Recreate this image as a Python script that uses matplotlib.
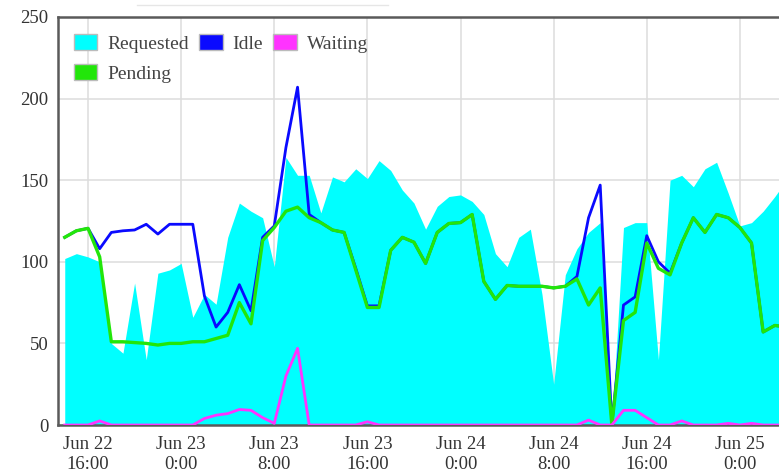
import numpy as np
import matplotlib
matplotlib.use("Agg")
import matplotlib.pyplot as plt
from matplotlib.patches import Patch
from matplotlib.lines import Line2D

# hourly samples, hours after Jun 22 16:00
hours = np.arange(-2, 61)

requested = [102, 105, 103, 100, 50, 44, 87, 40, 93, 95, 99, 66, 80, 74, 115,
             136, 131, 127, 97, 164, 153, 153, 130, 152, 149, 157, 151, 162, 156,
             144, 136, 120, 134, 140, 141, 137, 129, 105, 97, 115, 120, 80, 25,
             92, 108, 118, 124, 0, 121, 124, 124, 40, 150, 153, 146, 157, 161,
             142, 122, 124, 131, 140, 150]

idle = [115, 119, 120.5, 108, 118, 119, 119.5, 123, 117, 123, 123, 123, 79, 60,
        69, 86, 70, 115, 122, 170, 207, 129, 124, 119.5, 118, 96, 73, 73, 107,
        115, 112, 99, 118, 123.5, 124, 129, 88, 77, 85.5, 85, 85, 85, 84, 85,
        91, 127, 147, 0, 73.5, 78.5, 116, 100, 93, 111.5, 127, 118, 129, 127,
        121, 111.5, 57, 61, 60]

pending = [115, 119, 120.5, 103, 51, 51, 50.5, 50, 49, 50, 50, 51, 51, 53, 55,
           75, 62, 113, 121, 131, 133.5, 127, 124, 119.5, 118, 95, 72, 72, 107,
           115, 112, 99, 118, 123.5, 124, 129, 88, 77, 85.5, 85, 85, 85, 84, 85,
           89.5, 73.5, 84, 0, 64, 69, 111.5, 96, 92, 111.5, 127, 118, 129, 127,
           121, 111.5, 57, 61, 60]

waiting = [0, 0, 0, 2.5, 0, 0, 0, 0, 0, 0, 0, 0, 4, 6, 7, 9.5, 9, 4.5, 1, 30,
           47, 0, 0, 0, 0, 0, 2, 0, 0, 0, 0, 0, 0, 0, 0, 0, 0, 0, 0, 0, 0, 0, 0,
           0, 0, 3, 0, 0, 9, 9, 4.5, 0, 0, 2.5, 0, 0, 0, 1, 0, 1, 0, 0, 0]

tick_hours = [0, 8, 16, 24, 32, 40, 48, 56]
tick_labels = ["Jun 22\n16:00", "Jun 23\n0:00", "Jun 23\n8:00", "Jun 23\n16:00",
               "Jun 24\n0:00", "Jun 24\n8:00", "Jun 24\n16:00", "Jun 25\n0:00"]

plt.rcParams["font.family"] = ["Liberation Serif", "DejaVu Serif"]

fig = plt.figure(figsize=(7.79, 4.75), dpi=100)
ax = fig.add_axes([58 / 779, 50 / 475, 721 / 779, 408 / 475])

ax.fill_between(hours, 0, requested, color="#00ffff", linewidth=0, zorder=2)
ax.plot(hours, idle, color="#0a0aff", lw=2.0, zorder=3)
ax.plot(hours, pending, color="#22e60a", lw=2.4, zorder=4)
ax.plot(hours, waiting, color="#ff33ff", lw=2.0, zorder=5)

ax.set_xlim(-2.58, 59.36)
ax.set_ylim(0, 250)
ax.set_yticks([0, 50, 100, 150, 200, 250])
ax.set_xticks(tick_hours)
ax.set_xticklabels(tick_labels)
ax.tick_params(axis="both", length=0, labelsize=13.5, colors="#333333")
ax.tick_params(axis="y", pad=7)
ax.tick_params(axis="x", pad=8)
ax.grid(True, color="#dddddd", lw=1.1, zorder=0)
ax.set_axisbelow(True)

for side in ["left", "top", "bottom"]:
    ax.spines[side].set_color("#5a5a5a")
    ax.spines[side].set_linewidth(1.8)
ax.spines["right"].set_visible(False)

handles = [Patch(facecolor="#00ffff", edgecolor="#bbbbbb", label="Requested"),
           Patch(facecolor="#22e60a", edgecolor="#bbbbbb", label="Pending"),
           Patch(facecolor="#0a0aff", edgecolor="#bbbbbb", label="Idle"),
           Patch(facecolor="#ff33ff", edgecolor="#bbbbbb", label="Waiting")]
leg = ax.legend(handles=handles, ncol=3, loc="upper left",
                bbox_to_anchor=(0.022, 0.958), frameon=False, fontsize=14,
                handlelength=1.2, handleheight=0.88, handletextpad=0.5,
                columnspacing=0.55, labelspacing=0.6, borderpad=0,
                borderaxespad=0)
for t in leg.get_texts():
    t.set_color("#444444")

# faint line above the chart
fig.add_artist(Line2D([137 / 779, 388 / 779], [1 - 5 / 475] * 2,
                      color="#e6e6e6", lw=1))

fig.savefig("out.png", dpi=100)
